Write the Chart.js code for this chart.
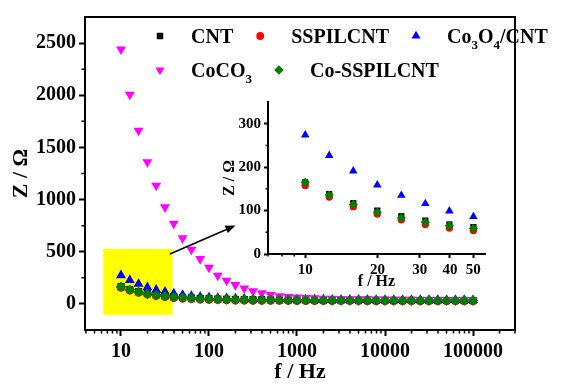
<!DOCTYPE html>
<html>
<head>
<meta charset="utf-8">
<script src="https://cdn.jsdelivr.net/npm/chart.js@4.4.1/dist/chart.umd.min.js"></script>
<style>
  html, body { margin: 0; padding: 0; background: #fff; }
  #wrap { position: relative; width: 561px; height: 386px; }
  #main { position: absolute; left: 0; top: 0; }
  #inset { position: absolute; left: 215px; top: 90px; }
</style>
</head>
<body>
<div id="wrap">
  <canvas id="main" width="561" height="386"></canvas>
  <canvas id="inset" width="280" height="212"></canvas>
</div>
<script>
const FONT = '"Liberation Serif", "Times New Roman", serif';

// frequency (Hz), 10 points per decade
const freq = [10, 12.59, 15.85, 19.95, 25.12, 31.62, 39.81, 50.12, 63.1, 79.43,
  100, 125.9, 158.5, 199.5, 251.2, 316.2, 398.1, 501.2, 631, 794.3,
  1000, 1259, 1585, 1995, 2512, 3162, 3981, 5012, 6310, 7943,
  10000, 12589, 15849, 19953, 25119, 31623, 39811, 50119, 63096, 79433, 100000];

// Z (ohm)
const cnt = [165, 138, 117, 100, 87, 77, 68, 62, 57, 53,
  50, 47, 45, 43, 42, 41, 40, 39, 38, 38,
  37, 37, 36, 36, 36, 35, 35, 35, 35, 34,
  34, 34, 34, 34, 33, 33, 33, 33, 33, 33, 32];
const sspilcnt = [158, 131, 109, 92, 79, 68, 60, 54, 49, 45,
  42, 40, 38, 36, 35, 34, 33, 33, 32, 32,
  31, 31, 31, 30, 30, 30, 30, 30, 29, 29,
  29, 29, 29, 29, 29, 28, 28, 28, 28, 28, 28];
const co3o4cnt = [274, 227, 191, 159, 135, 116, 99, 86, 76, 68,
  62, 58, 55, 52, 50, 48, 47, 46, 45, 44,
  43, 43, 42, 42, 41, 41, 40, 40, 40, 39,
  39, 39, 38, 38, 38, 38, 37, 37, 37, 37, 36];
const coco3 = [2440, 2007, 1662, 1360, 1134, 927, 770, 630, 521, 431,
  348, 271, 223, 182, 150, 122, 103, 86, 74, 67,
  62, 58, 55, 52, 50, 48, 47, 46, 45, 44,
  43, 42, 42, 41, 40, 40, 39, 39, 38, 38, 37];
const cosspilcnt = [165, 136, 114, 96, 83, 73, 65, 59, 54, 50,
  47, 45, 43, 41, 40, 39, 38, 37, 37, 36,
  36, 35, 35, 35, 34, 34, 34, 34, 34, 33,
  33, 33, 33, 33, 33, 33, 32, 32, 32, 32, 32];

const seriesNames = ['CNT', 'SSPILCNT', 'Co₃O₄/CNT', 'CoCO₃', 'Co-SSPILCNT'];
const seriesValues = [cnt, sspilcnt, co3o4cnt, coco3, cosspilcnt];

// axis ticks
const mainXTicks = [10, 100, 1000, 10000, 100000];
const mainYTicks = [0, 500, 1000, 1500, 2000, 2500];
const insetXTicks = [10, 20, 30, 40, 50];
const insetYTicks = [0, 100, 200, 300];
const insetPoints = 8; // 10 .. 50 Hz

// look
const colors = ['#000000', '#ff0000', '#0000ff', '#ff00ff', '#008000'];
const markers = [
  { style: 'rect', rot: 0, r: 4.6 },
  { style: 'circle', rot: 0, r: 3.9 },
  { style: 'triangle', rot: 0, r: 5.2 },
  { style: 'triangle', rot: 180, r: 5.2 },
  { style: 'rectRot', rot: 0, r: 4.8 }
];

let mainMinorX = [];
for (let d = 1; d <= 100000; d *= 10) {
  for (let m = 2; m <= 9; m++) mainMinorX.push(m * d);
}
const mainMinorY = [250, 750, 1250, 1750, 2250];

function makeSets(n, scale) {
  return seriesNames.map((name, i) => ({
    label: name,
    data: freq.slice(0, n).map((f, k) => ({ x: f, y: seriesValues[i][k] })),
    showLine: false,
    pointStyle: markers[i].style,
    pointRotation: markers[i].rot,
    pointRadius: markers[i].r * scale,
    pointHoverRadius: markers[i].r * scale,
    pointBackgroundColor: colors[i],
    pointBorderColor: colors[i],
    pointBorderWidth: 0,
    backgroundColor: colors[i],
    borderColor: colors[i],
    order: seriesNames.length - 1 - i
  }));
}

function drawMarker(ctx, ds, x, y, r) {
  ctx.fillStyle = ds.pointBackgroundColor;
  ctx.strokeStyle = ds.pointBorderColor;
  if (Chart.helpers && Chart.helpers.drawPoint) {
    Chart.helpers.drawPoint(ctx, { pointStyle: ds.pointStyle, rotation: ds.pointRotation, radius: r, borderWidth: 0 }, x, y);
  } else {
    ctx.beginPath(); ctx.arc(x, y, r, 0, Math.PI * 2); ctx.fill();
  }
}

// text with unicode subscripts drawn as lowered smaller digits
function drawSubText(ctx, text, x, y, size) {
  const subs = '₀₁₂₃₄₅₆₇₈₉';
  let runs = [];
  for (const ch of text) {
    const s = subs.indexOf(ch) >= 0;
    const c = s ? String(subs.indexOf(ch)) : ch;
    if (runs.length && runs[runs.length - 1].sub === s) runs[runs.length - 1].t += c;
    else runs.push({ t: c, sub: s });
  }
  ctx.textBaseline = 'alphabetic';
  ctx.textAlign = 'left';
  runs.forEach(r => {
    ctx.font = 'bold ' + (r.sub ? Math.round(size * 0.65) : size) + 'px ' + FONT;
    ctx.fillText(r.t, x, r.sub ? y + size * 0.3 : y);
    x += ctx.measureText(r.t).width;
  });
  return x;
}

const legendRows = [[0, 1, 2], [3, 4]];
const legendPlugin = {
  id: 'sketchLegend',
  afterDraw(chart, args, o) {
    if (!o.show) return;
    const ctx = chart.ctx;
    ctx.save();
    legendRows.forEach((row, ri) => {
      let x = o.x;
      const y = o.y + ri * o.rowGap;
      row.forEach(i => {
        const ds = chart.data.datasets[i];
        drawMarker(ctx, ds, x, y, markers[i].r);
        ctx.fillStyle = '#000';
        const end = drawSubText(ctx, ds.label, x + o.textGap, y + 7, o.size);
        x = end + o.itemGap;
      });
    });
    ctx.restore();
  }
};

const minorTicks = {
  id: 'minorTicks',
  afterDraw(chart, args, o) {
    const ctx = chart.ctx, xs = chart.scales.x, ys = chart.scales.y;
    ctx.save();
    ctx.strokeStyle = '#000';
    ctx.lineWidth = o.width;
    ctx.beginPath();
    o.x.forEach(v => {
      if (v < xs.min || v > xs.max) return;
      const p = xs.getPixelForValue(v);
      ctx.moveTo(p, xs.top); ctx.lineTo(p, xs.top + o.len);
    });
    o.y.forEach(v => {
      const p = ys.getPixelForValue(v);
      ctx.moveTo(ys.right, p); ctx.lineTo(ys.right - o.len, p);
    });
    ctx.stroke();
    ctx.restore();
  }
};

const framePlugin = {
  id: 'frame',
  afterDraw(chart, args, o) {
    if (!o.box) return;
    const a = chart.chartArea, ctx = chart.ctx;
    ctx.save();
    ctx.strokeStyle = '#000';
    ctx.lineWidth = 2;
    ctx.strokeRect(a.left, a.top, a.right - a.left, a.bottom - a.top);
    ctx.restore();
  }
};

// zoom region and arrow, in data units
const zoomBox = { xMin: 6.3, xMax: 38.5, yMin: -105, yMax: 527 };
const arrowFrom = { x: 36, y: 479 };
const arrowTo = { x: 200, y: 752 };

const zoomPlugin = {
  id: 'zoomMark',
  beforeDatasetsDraw(chart, args, o) {
    if (!o.show) return;
    const xs = chart.scales.x, ys = chart.scales.y, ctx = chart.ctx;
    const x1 = xs.getPixelForValue(zoomBox.xMin), x2 = xs.getPixelForValue(zoomBox.xMax);
    const y1 = ys.getPixelForValue(zoomBox.yMax), y2 = ys.getPixelForValue(zoomBox.yMin);
    ctx.save();
    ctx.fillStyle = '#ffff00';
    ctx.fillRect(x1, y1, x2 - x1, y2 - y1);
    ctx.restore();
  },
  afterDatasetsDraw(chart, args, o) {
    if (!o.show) return;
    const xs = chart.scales.x, ys = chart.scales.y, ctx = chart.ctx;
    const ax = xs.getPixelForValue(arrowFrom.x), ay = ys.getPixelForValue(arrowFrom.y);
    const bx = xs.getPixelForValue(arrowTo.x), by = ys.getPixelForValue(arrowTo.y);
    const ang = Math.atan2(by - ay, bx - ax);
    ctx.save();
    ctx.strokeStyle = '#000';
    ctx.fillStyle = '#000';
    ctx.lineWidth = 1.6;
    ctx.beginPath();
    ctx.moveTo(ax, ay);
    ctx.lineTo(bx - 8 * Math.cos(ang), by - 8 * Math.sin(ang));
    ctx.stroke();
    ctx.beginPath();
    ctx.moveTo(bx, by);
    ctx.lineTo(bx - 10 * Math.cos(ang) + 4 * Math.sin(ang), by - 10 * Math.sin(ang) - 4 * Math.cos(ang));
    ctx.lineTo(bx - 10 * Math.cos(ang) - 4 * Math.sin(ang), by - 10 * Math.sin(ang) + 4 * Math.cos(ang));
    ctx.closePath();
    ctx.fill();
    ctx.restore();
  }
};

function axisFont(size) {
  return { family: FONT, size: size, weight: 'bold' };
}

function makeChart(id, cfg) {
  return new Chart(document.getElementById(id), {
    type: 'scatter',
    data: { datasets: makeSets(cfg.n, cfg.mscale) },
    plugins: [zoomPlugin, minorTicks, framePlugin, legendPlugin],
    options: {
      responsive: false,
      animation: false,
      events: [],
      layout: { padding: cfg.pad },
      plugins: {
        legend: { display: false },
        tooltip: { enabled: false },
        sketchLegend: cfg.legend,
        minorTicks: { x: cfg.minorX, y: cfg.minorY, len: cfg.minorLen, width: 1.5 },
        frame: { box: cfg.box },
        zoomMark: { show: cfg.zoom }
      },
      scales: {
        x: {
          type: 'logarithmic',
          min: cfg.xMin, max: cfg.xMax,
          afterBuildTicks: s => { s.ticks = cfg.xTicks.map(v => ({ value: v })); },
          afterFit: s => { s.height = cfg.xH; },
          ticks: { callback: v => String(v), font: axisFont(cfg.tick), color: '#000', padding: cfg.xPad, maxRotation: 0, autoSkip: false },
          grid: { drawOnChartArea: false, tickLength: cfg.tickLen, tickWidth: 2, tickColor: '#000' },
          border: { display: true, color: '#000', width: 2 },
          title: { display: true, text: 'f / Hz', font: axisFont(cfg.title), color: '#000', padding: cfg.xTitlePad }
        },
        y: {
          type: 'linear',
          min: cfg.yMin, max: cfg.yMax,
          afterBuildTicks: s => { s.ticks = cfg.yTicks.map(v => ({ value: v })); },
          afterFit: s => { s.width = cfg.yW; },
          ticks: { callback: v => String(v), font: axisFont(cfg.tick), color: '#000', padding: cfg.yPad },
          grid: { drawOnChartArea: false, tickLength: cfg.tickLen, tickWidth: 2, tickColor: '#000' },
          border: { display: true, color: '#000', width: 2 },
          title: { display: true, text: 'Z / Ω', font: axisFont(cfg.title), color: '#000', padding: cfg.yTitlePad }
        }
      }
    }
  });
}

makeChart('main', {
  n: freq.length, mscale: 1.1,
  pad: { left: 0, top: 17, right: 46, bottom: 0 },
  xMin: 3.9, xMax: 300000, yMin: -250, yMax: 2750,
  xTicks: mainXTicks, yTicks: mainYTicks,
  minorX: mainMinorX, minorY: mainMinorY, minorLen: 3.5,
  xH: 56, yW: 85, tick: 20, title: 22, tickLen: 6,
  xPad: 4, yPad: 3,
  xTitlePad: { top: 0, bottom: 0 }, yTitlePad: { top: 8, bottom: 0 },
  box: true, zoom: true,
  legend: { show: true, x: 160, y: 36, rowGap: 34, textGap: 31, itemGap: 27, size: 20 }
});

makeChart('inset', {
  n: insetPoints, mscale: 0.95,
  pad: { left: 0, top: 8, right: 10, bottom: 0 },
  xMin: 7, xMax: 56, yMin: 0, yMax: 350,
  xTicks: insetXTicks, yTicks: insetYTicks,
  minorX: [7, 8, 9], minorY: [50, 150, 250], minorLen: 2.5,
  xH: 48, yW: 53, tick: 15, title: 16, tickLen: 4,
  xPad: 3, yPad: 3,
  xTitlePad: { top: 0, bottom: 11 }, yTitlePad: { top: 5, bottom: 0 },
  box: false, zoom: false,
  legend: { show: false }
});
</script>
</body>
</html>
